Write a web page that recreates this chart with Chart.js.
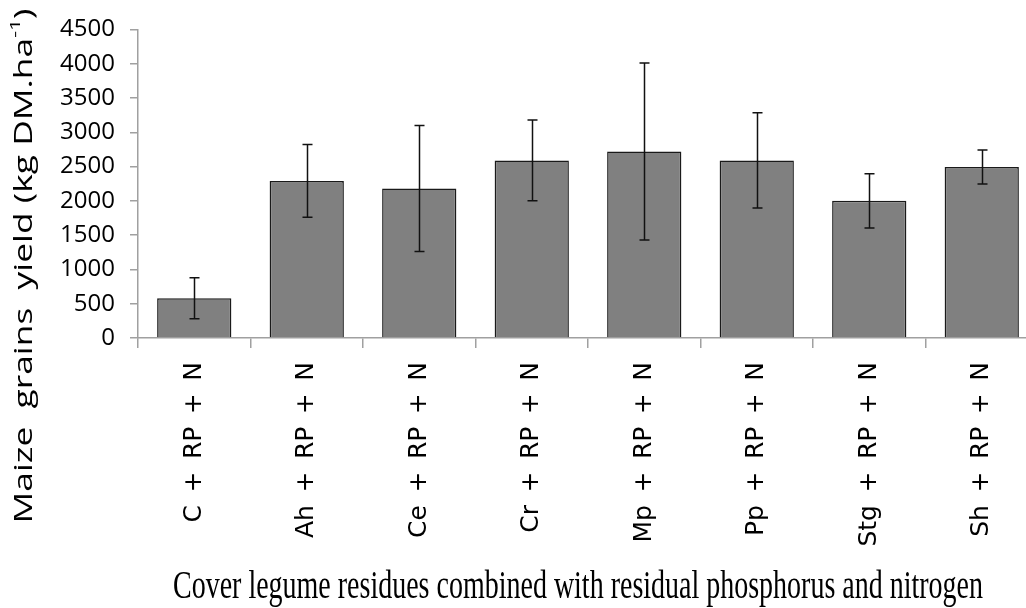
<!DOCTYPE html>
<html>
<head>
<meta charset="utf-8">
<script src="https://cdn.jsdelivr.net/npm/chart.js@4.4.1/dist/chart.umd.min.js"></script>
<style>
  html, body { margin: 0; padding: 0; background: #fff; overflow: hidden; }
  canvas { display: block; }
</style>
</head>
<body>
<canvas id="yield" width="1050" height="608"></canvas>
<script>
const categories = ["C + RP + N", "Ah + RP + N", "Ce + RP + N", "Cr + RP + N",
  "Mp + RP + N", "Pp + RP + N", "Stg + RP + N", "Sh + RP + N"];
const means = [580, 2290, 2180, 2590, 2720, 2590, 2000, 2495];
const errors = [300, 530, 920, 590, 1290, 695, 395, 248];
const yTicks = [0, 500, 1000, 1500, 2000, 2500, 3000, 3500, 4000, 4500];

const axisGray = "#a0a0a0";

// error bars drawn from the y scale
const errorBars = {
  id: "errorBars",
  afterDatasetsDraw(chart) {
    const ctx = chart.ctx;
    const y = chart.scales.y;
    const meta = chart.getDatasetMeta(0);
    ctx.save();
    ctx.strokeStyle = "#111";
    ctx.lineWidth = 1.5;
    meta.data.forEach((bar, i) => {
      const top = y.getPixelForValue(means[i] + errors[i]);
      const bot = y.getPixelForValue(means[i] - errors[i]);
      const x = Math.round(bar.x) + 0.5;
      ctx.beginPath();
      ctx.moveTo(x, top); ctx.lineTo(x, bot);
      ctx.moveTo(x - 5, top); ctx.lineTo(x + 5, top);
      ctx.moveTo(x - 5, bot); ctx.lineTo(x + 5, bot);
      ctx.stroke();
    });
    ctx.restore();
  }
};

// axis titles, stretched / condensed like the original figure
const axisTitles = {
  id: "axisTitles",
  afterDraw(chart) {
    const ctx = chart.ctx;
    ctx.save();
    ctx.fillStyle = "#000";
    // y title
    const main = "Maize  grains  yield (kg DM.ha";
    const sup = "-1";
    const tail = ")";
    const mainFont = '25px "Open Sans"';
    const supFont = '15px "Open Sans"';
    ctx.font = mainFont;
    const w1 = ctx.measureText(main).width;
    const w3 = ctx.measureText(tail).width;
    ctx.font = supFont;
    const w2 = ctx.measureText(sup).width;
    const total = w1 + w2 + w3;
    ctx.translate(25, 266);
    ctx.rotate(-Math.PI / 2);
    ctx.scale(515 / total, 1);
    ctx.textBaseline = "middle";
    ctx.textAlign = "left";
    let x = -total / 2;
    ctx.font = mainFont;
    ctx.fillText(main, x, 0);
    x += w1;
    ctx.font = supFont;
    ctx.fillText(sup, x, -9);
    x += w2;
    ctx.font = mainFont;
    ctx.fillText(tail, x, 0);
    ctx.restore();

    // x title
    ctx.save();
    ctx.fillStyle = "#000";
    const xt = "Cover legume residues combined with residual phosphorus and nitrogen";
    ctx.font = '39px "Liberation Serif"';
    const wx = ctx.measureText(xt).width;
    ctx.translate(578, 598);
    ctx.scale(810 / wx, 1);
    ctx.textAlign = "center";
    ctx.textBaseline = "alphabetic";
    ctx.fillText(xt, 0, 0);
    ctx.restore();
  }
};

new Chart(document.getElementById("yield"), {
  type: "bar",
  data: {
    labels: categories,
    datasets: [{
      data: means,
      backgroundColor: "#808080",
      borderColor: "#1a1a1a",
      borderWidth: 1.5,
      barPercentage: 0.66,
      categoryPercentage: 1
    }]
  },
  options: {
    responsive: false,
    animation: false,
    devicePixelRatio: 1,
    layout: { padding: { top: 23, right: 12, left: 0, bottom: 0 } },
    plugins: {
      legend: { display: false },
      tooltip: { enabled: false }
    },
    scales: {
      x: {
        offset: true,
        grid: {
          display: true,
          offset: true,
          drawOnChartArea: false,
          color: axisGray,
          lineWidth: 1.5,
          tickLength: 10
        },
        border: { color: axisGray, width: 1.5 },
        ticks: {
          autoSkip: false,
          minRotation: 90,
          maxRotation: 90,
          padding: 14,
          color: "#000",
          font: { family: "DejaVu Sans", size: 25 },
          callback: function (v, i) { return categories[i].replace(/ /g, "\u2002"); }
        },
        afterFit(scale) { scale.height = 270; }
      },
      y: {
        min: 0,
        max: 4500,
        afterBuildTicks(scale) { scale.ticks = yTicks.map(v => ({ value: v })); },
        grid: {
          drawOnChartArea: false,
          color: axisGray,
          lineWidth: 1.5,
          tickLength: 8
        },
        border: { color: axisGray, width: 1.5 },
        ticks: {
          padding: 15,
          color: "#000",
          font: { family: "Open Sans", size: 24 },
          callback: function (v) { return String(v); }
        },
        afterFit(scale) { scale.width = 138; }
      }
    }
  },
  plugins: [errorBars, axisTitles]
});
</script>
</body>
</html>
